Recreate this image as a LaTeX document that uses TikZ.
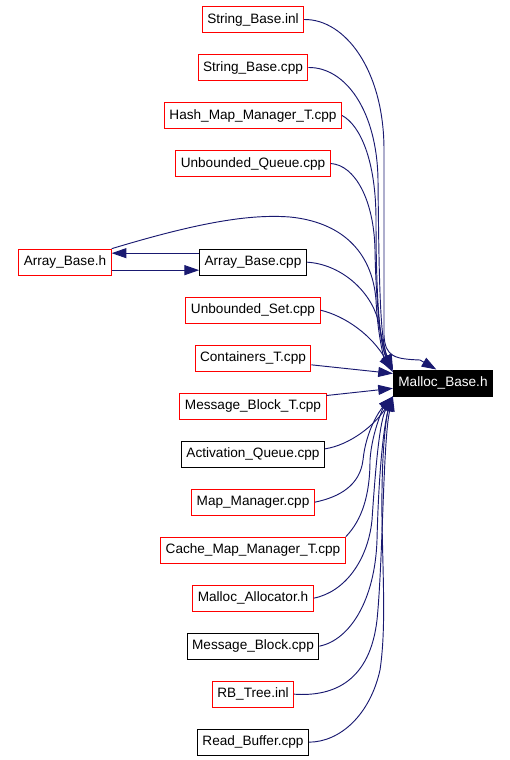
\documentclass[tikz,border=0pt]{standalone}
\usepackage{fontspec}
\setmainfont{Liberation Sans}
\usetikzlibrary{arrows.meta}
\definecolor{edgeblue}{RGB}{25,25,112}

\begin{document}
\begin{tikzpicture}[x=0.75pt, y=-0.75pt, node distance=36pt,
    redblock/.style={rectangle, draw=red, line width=0.75pt, inner xsep=3.75pt, minimum height=19.5pt, font=\fontsize{10.2}{12}\selectfont},
    blackblock/.style={redblock, draw=black},
    mainblock/.style={redblock, draw=black, fill=black, text=white},
    line/.style={draw=edgeblue, line width=0.7pt, -{Triangle[length=11pt,width=7.5pt]}}]

    \useasboundingbox (0,0) rectangle (510,760);

    \node [mainblock] at (443,383) (mb) {Malloc\_Base.h};

    \node [redblock] at (253,19.5) (sbinl) {String\_Base.inl};
    \node [redblock, below of=sbinl] (sbcpp) {String\_Base.cpp};
    \node [redblock, below of=sbcpp] (hmm) {Hash\_Map\_Manager\_T.cpp};
    \node [redblock, below of=hmm] (uq) {Unbounded\_Queue.cpp};
    \node [blackblock, below of=uq, node distance=74pt] (abcpp) {Array\_Base.cpp};
    \node [redblock, left of=abcpp, node distance=141pt] (abh) {Array\_Base.h};
    \node [redblock, below of=abcpp] (us) {Unbounded\_Set.cpp};
    \node [redblock, below of=us] (ct) {Containers\_T.cpp};
    \node [redblock, below of=ct] (mbt) {Message\_Block\_T.cpp};
    \node [blackblock, below of=mbt] (aq) {Activation\_Queue.cpp};
    \node [redblock, below of=aq] (mm) {Map\_Manager.cpp};
    \node [redblock, below of=mm] (cmm) {Cache\_Map\_Manager\_T.cpp};
    \node [redblock, below of=cmm] (ma) {Malloc\_Allocator.h};
    \node [blackblock, below of=ma] (mbcpp) {Message\_Block.cpp};
    \node [redblock, below of=mbcpp] (rbt) {RB\_Tree.inl};
    \node [blackblock, below of=rbt] (rb) {Read\_Buffer.cpp};

    \path [line] (sbinl.east) .. controls (345,19) and (384,70) .. (384,150) -- (384,335) .. controls (385,357) and (395,359) .. (420,360) -- ([xshift=-5pt]mb.north);
    \path [line] (sbcpp.east) .. controls (345,67) and (377,110) .. (378,180) .. controls (379,280) and (380,340) .. (mb.north west);
    \path [line] (hmm.east) .. controls (360,125) and (376,160) .. (376,220) .. controls (376,300) and (380,345) .. (mb.north west);
    \path [line] (uq.east) .. controls (355,165) and (374,200) .. (375,250) .. controls (376,310) and (382,350) .. (mb.north west);
    \path [line] (abh.north east) .. controls (200,222) and (250,214) .. (290,217) .. controls (340,222) and (372,250) .. (376,300) .. controls (378,340) and (385,360) .. (mb.north west);
    \path [line] ([yshift=6.75pt]abcpp.west) -- ([yshift=6.75pt]abh.east);
    \path [line] ([yshift=-6pt]abh.east) -- ([yshift=-6pt]abcpp.west);
    \path [line] (abcpp.east) .. controls (340,264) and (370,290) .. (378,320) .. controls (383,345) and (388,360) .. (mb.north west);
    \path [line] (us.east) .. controls (345,316) and (372,335) .. ([yshift=-2pt]mb.north west);
    \path [line] ([yshift=-5pt]ct.east) -- ([yshift=-3pt]mb.north west);
    \path [line] ([yshift=8pt]mbt.east) -- ([yshift=-4pt]mb.west);
    \path [line] ([yshift=4pt]aq.east) .. controls (350,445) and (375,425) .. (mb.south west);
    \path [line] (mm.east) .. controls (340,497) and (360,485) .. (363,460) .. controls (366,430) and (380,410) .. (mb.south west);
    \path [line] (cmm.north east) .. controls (362,520) and (370,495) .. (370,460) .. controls (372,430) and (385,405) .. (mb.south west);
    \path [line] (ma.east) .. controls (345,592) and (368,560) .. (372,520) .. controls (376,460) and (380,420) .. (mb.south west);
    \path [line] (mbcpp.east) .. controls (350,640) and (375,600) .. (377,540) .. controls (379,460) and (385,420) .. (mb.south west);
    \path [line] (rbt.east) .. controls (335,697) and (370,680) .. (377,620) .. controls (383,560) and (383,440) .. (mb.south west);
    \path [line] (rb.east) .. controls (340,742) and (370,715) .. (380,670) .. controls (386,630) and (383,580) .. (382,520) .. controls (381,440) and (388,410) .. (mb.south west);
\end{tikzpicture}
\end{document}
